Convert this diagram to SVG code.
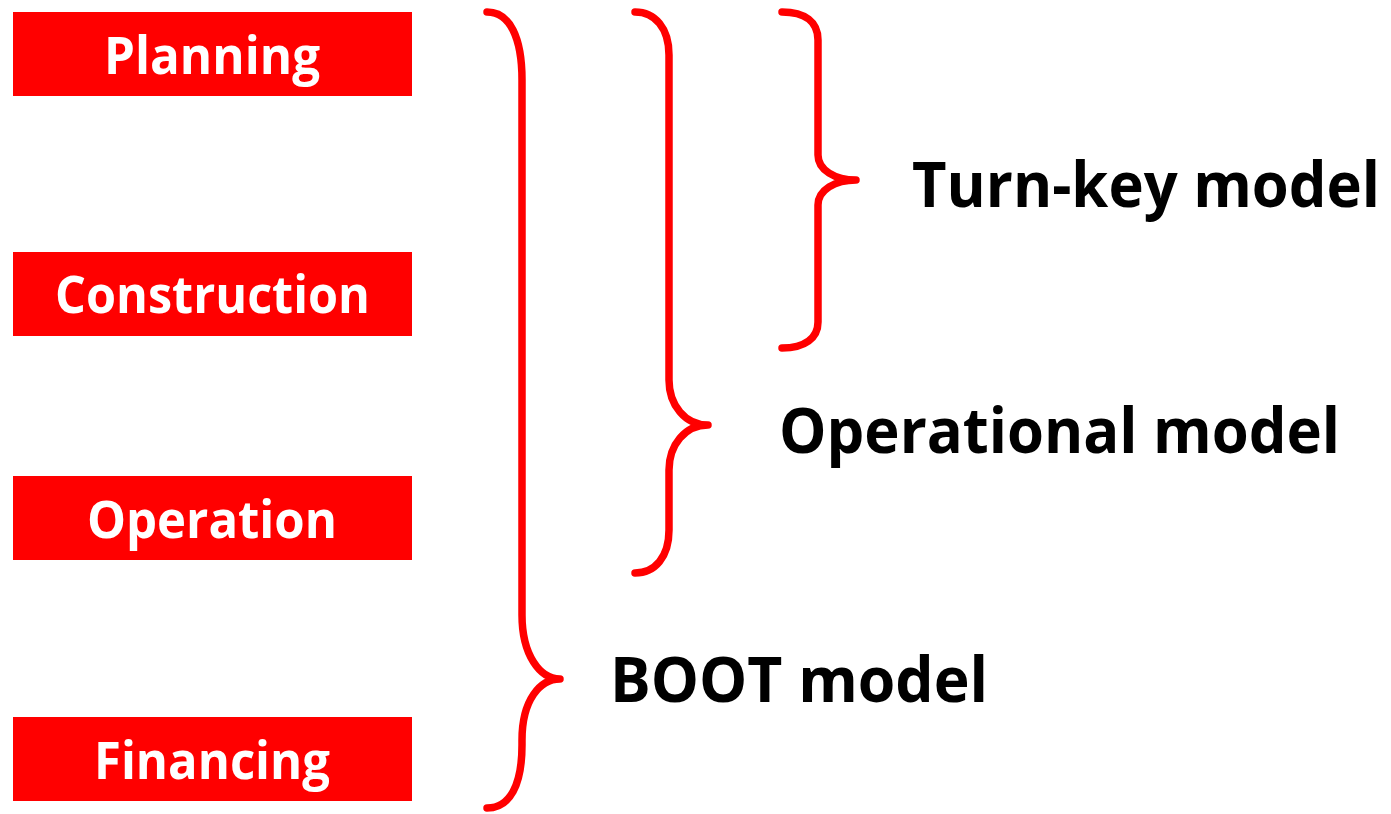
<svg xmlns="http://www.w3.org/2000/svg" width="1391" height="814" viewBox="0 0 1391 814">
<style>
.box{fill:#ff0000}
.bt{font-family:"Open Sans","Noto Sans",sans-serif;font-weight:bold;font-size:52px;fill:#fff}
.lbl{font-family:"Open Sans","Noto Sans",sans-serif;font-weight:bold;font-size:62px;fill:#000}
.brace{fill:none;stroke:#ff0000;stroke-width:7.5;stroke-linecap:round;stroke-linejoin:round}
</style>
<rect width="1391" height="814" fill="#fff"/>
<g id="planning"><rect class="box" x="13" y="12" width="399" height="84"/><text class="bt" x="104" y="74" textLength="216" lengthAdjust="spacingAndGlyphs">Planning</text></g>
<g id="construction"><rect class="box" x="13" y="252" width="399" height="84"/><text class="bt" x="55" y="313" textLength="315" lengthAdjust="spacingAndGlyphs">Construction</text></g>
<g id="operation"><rect class="box" x="13" y="476" width="399" height="84"/><text class="bt" x="87" y="538" textLength="250" lengthAdjust="spacingAndGlyphs">Operation</text></g>
<g id="financing"><rect class="box" x="13" y="717" width="399" height="84"/><text class="bt" x="94" y="779" textLength="236" lengthAdjust="spacingAndGlyphs">Financing</text></g>
<g id="connectors">
<path class="brace" d="M487,12 C510,12 522,38 522,80 L522,615 C522,655 540,679 560,679 C540,679 522,700 522,740 L522,745 C522,785 510,808 487,808"/>
<path class="brace" d="M635,12 C655,12 669,28 669,55 L669,380 C669,405 685,425 708,425 C685,425 669,445 669,470 L669,530 C669,557 655,573 635,573"/>
<path class="brace" d="M782,12 C805,12 818,22 818,40 L818,155 C818,170 835,180 856,180 C835,180 818,190 818,205 L818,322 C818,338 805,348 782,348"/>
</g>
<g id="turnkey"><text class="lbl" x="912" y="207" textLength="468" lengthAdjust="spacingAndGlyphs">Turn-key model</text></g>
<g id="operational"><text class="lbl" x="779" y="453" textLength="561" lengthAdjust="spacingAndGlyphs">Operational model</text></g>
<g id="boot"><text class="lbl" x="610" y="702" textLength="378" lengthAdjust="spacingAndGlyphs">BOOT model</text></g>
</svg>
